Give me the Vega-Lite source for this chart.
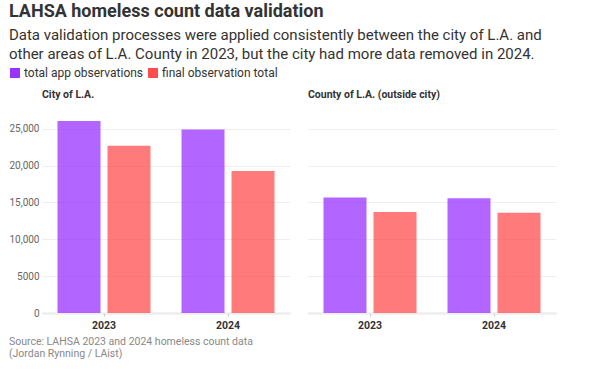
{
  "$schema": "https://vega.github.io/schema/vega-lite/v6.json",
  "background": "white",
  "padding": {"left": 8, "top": 3, "right": 10, "bottom": 5},
  "title": {
    "text": "LAHSA homeless count data validation",
    "subtitle": ["Data validation processes were applied consistently between the city of L.A. and", "other areas of L.A. County in 2023, but the city had more data removed in 2024."],
    "anchor": "start",
    "font": "Roboto",
    "fontSize": 18,
    "fontWeight": "bold",
    "color": "#333333",
    "subtitleFont": "Roboto",
    "subtitleFontSize": 15,
    "subtitleColor": "#333333",
    "subtitleLineHeight": 19,
    "subtitlePadding": 7,
    "offset": 5
  },
  "data": {
    "values": [
      {"region": "City of L.A.", "year": "2023", "series": "total app observations", "value": 26035},
      {"region": "City of L.A.", "year": "2023", "series": "final observation total", "value": 22690},
      {"region": "City of L.A.", "year": "2024", "series": "total app observations", "value": 24900},
      {"region": "City of L.A.", "year": "2024", "series": "final observation total", "value": 19270},
      {"region": "County of L.A. (outside city)", "year": "2023", "series": "total app observations", "value": 15660},
      {"region": "County of L.A. (outside city)", "year": "2023", "series": "final observation total", "value": 13720},
      {"region": "County of L.A. (outside city)", "year": "2024", "series": "total app observations", "value": 15560},
      {"region": "County of L.A. (outside city)", "year": "2024", "series": "final observation total", "value": 13590}
    ]
  },
  "vconcat": [
    {
      "title": {
        "text": ["Source: LAHSA 2023 and 2024 homeless count data", "(Jordan Rynning / LAist)"],
        "orient": "bottom",
        "anchor": "start",
        "font": "Roboto",
        "fontSize": 10.5,
        "fontWeight": "normal",
        "color": "#888888",
        "lineHeight": 12.5,
        "offset": 6
      },
      "facet": {
        "column": {
          "field": "region",
          "type": "nominal",
          "sort": ["City of L.A.", "County of L.A. (outside city)"],
          "title": null,
          "header": {
            "labelFont": "Roboto",
            "labelFontSize": 10.5,
            "labelFontWeight": "bold",
            "labelColor": "#333333",
            "labelAnchor": "start",
            "labelPadding": 14
          }
        }
      },
      "spacing": 18,
      "spec": {
        "width": 248,
        "height": 199,
        "mark": {"type": "bar", "opacity": 0.75},
        "encoding": {
          "x": {
            "field": "year",
            "type": "nominal",
            "scale": {"paddingInner": 0.25, "paddingOuter": 0.125},
            "axis": {
              "title": null,
              "labelAngle": 0,
              "labelFont": "Roboto",
              "labelFontSize": 10.5,
              "labelFontWeight": "bold",
              "labelColor": "#333333",
              "labelPadding": 4,
              "tickSize": 3,
              "tickColor": "#cccccc",
              "domainColor": "#cccccc",
              "domainWidth": 1.5,
              "grid": false
            }
          },
          "xOffset": {
            "field": "series",
            "type": "nominal",
            "sort": ["total app observations", "final observation total"],
            "scale": {"paddingInner": 0.14, "paddingOuter": 0}
          },
          "y": {
            "field": "value",
            "type": "quantitative",
            "scale": {"domain": [0, 27000], "nice": false},
            "axis": {
              "title": null,
              "values": [0, 5000, 10000, 15000, 20000, 25000],
              "labelExpr": "datum.value >= 10000 ? format(datum.value, ',') : format(datum.value, 'd')",
              "labelFont": "Roboto",
              "labelFontSize": 10,
              "labelColor": "#666666",
              "labelPadding": 3,
              "ticks": false,
              "domain": false,
              "grid": true,
              "gridColor": "#eeeeee"
            }
          },
          "color": {
            "field": "series",
            "type": "nominal",
            "scale": {"domain": ["total app observations", "final observation total"], "range": ["#9933ff", "#ff4d4d"]},
            "legend": {
              "title": null,
              "orient": "none",
              "legendX": -33,
              "legendY": -47,
              "direction": "horizontal",
              "symbolType": "square",
              "symbolSize": 100,
              "symbolOpacity": 1,
              "symbolStrokeWidth": 0,
              "labelFont": "Roboto",
              "labelFontSize": 12,
              "labelColor": "#333333",
              "labelOffset": 3,
              "columnPadding": 3
            }
          }
        }
      }
    }
  ],
  "config": {
    "view": {"stroke": null},
    "font": "Roboto"
  }
}
